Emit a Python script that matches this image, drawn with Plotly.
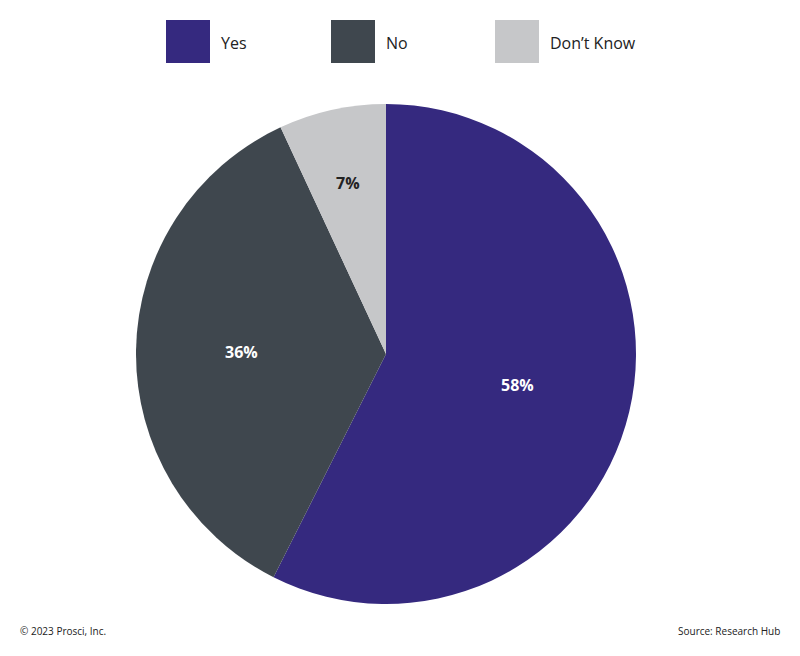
import math
import plotly.graph_objects as go

categories = ["Yes", "No", "Don’t Know"]
values = [58, 36, 7]
labels = ["58%", "36%", "7%"]
colors = ["#35297f", "#3f474e", "#c6c7c9"]
text_colors = ["#ffffff", "#ffffff", "#222222"]

W, H = 800, 656
CX, CY, R = 386, 354, 250          # pie centre / radius in pixels
label_radius = [0.54, 0.58, 0.70]  # label distance from centre, fraction of radius

fig = go.Figure()
fig.add_trace(go.Pie(
    labels=categories,
    values=values,
    text=labels,
    textinfo="none",
    sort=False,
    direction="clockwise",
    rotation=0,
    marker=dict(colors=colors, line=dict(width=0)),
    showlegend=False,
    hoverinfo="label+text",
    domain=dict(x=[(CX - R) / W, (CX + R) / W], y=[1 - (CY + R) / H, 1 - (CY - R) / H]),
))

# slice labels placed at each slice's mid-angle (derived from the values)
total = sum(values)
cum = 0.0
for i, v in enumerate(values):
    mid = (cum + v / 2) / total * 2 * math.pi
    cum += v
    px = CX + label_radius[i] * R * math.sin(mid)
    py = CY - label_radius[i] * R * math.cos(mid)
    fig.add_annotation(xref="paper", yref="paper", x=px / W, y=1 - py / H,
                       text="<b>" + labels[i] + "</b>", showarrow=False,
                       xanchor="center", yanchor="middle",
                       font=dict(family="Open Sans", size=16, color=text_colors[i]))

# manual legend with large swatches
sw_x = [166, 331, 495]
for i, cat in enumerate(categories):
    x0 = sw_x[i]
    fig.add_shape(type="rect", xref="paper", yref="paper",
                  x0=x0 / W, x1=(x0 + 44) / W, y0=1 - 63 / H, y1=1 - 20 / H,
                  fillcolor=colors[i], line=dict(width=0))
    fig.add_annotation(xref="paper", yref="paper", x=(x0 + 53) / W, y=1 - 43 / H,
                       text=cat, showarrow=False, xanchor="left", yanchor="middle",
                       font=dict(family="Open Sans", size=16, color="#222222"))

fig.add_annotation(xref="paper", yref="paper", x=18 / W, y=1 - 631 / H,
                   text="© 2023 Prosci, Inc.", showarrow=False, xanchor="left", yanchor="middle",
                   font=dict(family="Open Sans", size=10, color="#222222"))
fig.add_annotation(xref="paper", yref="paper", x=782 / W, y=1 - 631 / H,
                   text="Source: Research Hub", showarrow=False, xanchor="right", yanchor="middle",
                   font=dict(family="Open Sans", size=10, color="#222222"))

fig.update_layout(
    width=W, height=H,
    margin=dict(l=0, r=0, t=0, b=0),
    paper_bgcolor="white",
    plot_bgcolor="white",
)

fig.write_html("out.html", config={"displayModeBar": False},
               post_script="document.body.style.margin='0';")
